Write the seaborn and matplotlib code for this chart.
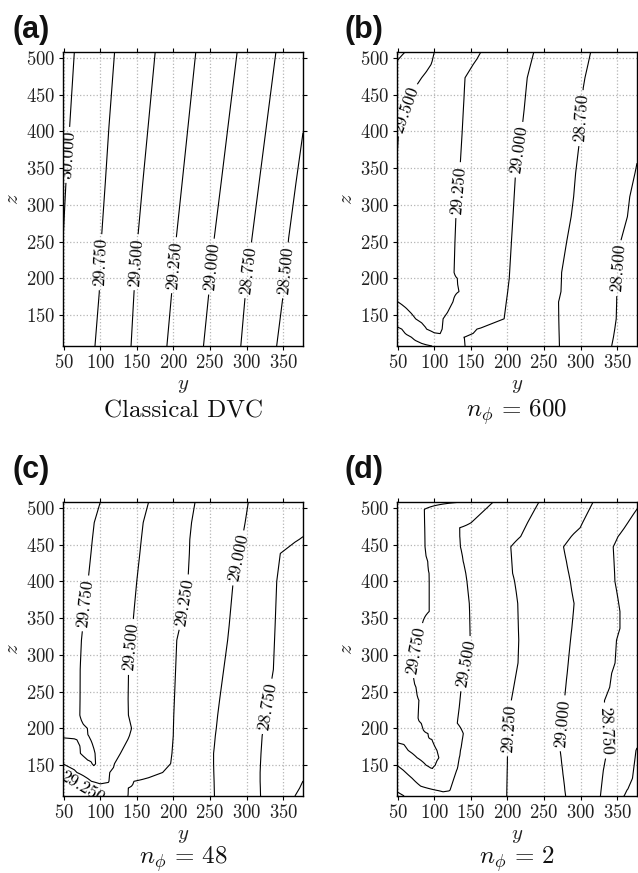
import numpy as np
import matplotlib
matplotlib.use("Agg")
import matplotlib.pyplot as plt
import seaborn as sns

# ---------------- data ----------------
LEVELS = [28.5, 28.75, 29.0, 29.25, 29.5, 29.75, 30.0]
X_TICKS = [50, 100, 150, 200, 250, 300, 350]
Z_TICKS = [150, 200, 250, 300, 350, 400, 450, 500]
PANEL_TAGS = ["(a)", "(b)", "(c)", "(d)"]
PANEL_TITLES = ["Classical DVC", r"$n_\phi\, =\, 600$", r"$n_\phi\, =\, 48$", r"$n_\phi\, =\, 2$"]

# Each panel: rows of the field (z of the row, y knots, field value at knots)
# (a) classical DVC
A_Z = [108, 180, 255, 330, 405, 508]
A_Y = [[49, 92.7, 142, 191, 241, 292, 341, 377],
       [49, 98.5, 146, 197.5, 248.3, 298.3, 350.2, 377],
       [49, 101.6, 151.2, 203.8, 255.7, 307.3, 357.4, 377],
       [49, 53, 106.8, 158, 211.8, 265.1, 317, 367.4, 377],
       [49, 58, 111.7, 165.2, 219.7, 274.3, 326.7, 377],
       [49, 64.5, 119.5, 175, 230.5, 287, 340, 377]]
A_V = [[29.97, 29.75, 29.5, 29.25, 29.0, 28.75, 28.5, 28.32],
       [29.98, 29.75, 29.5, 29.25, 29.0, 28.75, 28.5, 28.37],
       [30.001, 29.75, 29.5, 29.25, 29.0, 28.75, 28.5, 28.405],
       [30.02, 30.0, 29.75, 29.5, 29.25, 29.0, 28.75, 28.5, 28.45],
       [30.04, 30.0, 29.75, 29.5, 29.25, 29.0, 28.75, 28.505],
       [30.07, 30.0, 29.75, 29.5, 29.25, 29.0, 28.75, 28.575]]

# (b) n_phi = 600
B_Z = [108, 120, 131, 145, 168, 182, 200, 208, 250, 284, 311, 343, 398, 430, 459, 473, 491, 508]
B_Y = [[49, 97, 118, 142, 271, 342.4, 377],
       [49, 68.6, 108, 140.5, 270.7, 344.8, 377],
       [49, 55.5, 89.5, 100, 110.7, 158.3, 270.4, 346.6, 377],
       [49, 74.4, 95, 112, 195.4, 270.1, 348.6, 377],
       [49, 88, 125.4, 198.4, 269.8, 349.2, 377],
       [49, 133.7, 200.3, 273.1, 349.4, 377],
       [49, 131.4, 202.4, 273.8, 350.6, 377],
       [49, 127, 202.9, 274, 351.2, 377],
       [49, 128.2, 205.4, 280.9, 354.6, 377],
       [49, 129.5, 207.5, 287, 363.9, 377],
       [49, 131.9, 209.1, 290.4, 367.1, 377],
       [49, 134.7, 211, 293.1, 374.2, 377],
       [49, 51, 138, 219.2, 299.7, 377],
       [49, 62, 139.7, 222.8, 301.7, 377],
       [49, 72.7, 141.2, 225.6, 303.5, 377],
       [49, 82.7, 142, 227, 305.9, 377],
       [49, 95.5, 153.1, 231.6, 310, 377],
       [49, 60, 100, 163.6, 236, 313.7, 377]]
B_V = [[28.88, 29.0, 29.17, 29.0, 28.75, 28.5, 28.39],
       [28.93, 29.0, 29.24, 29.0, 28.75, 28.5, 28.4],
       [28.97, 29.0, 29.25, 29.3, 29.25, 29.0, 28.75, 28.5, 28.4],
       [29.1, 29.25, 29.33, 29.25, 29.0, 28.75, 28.5, 28.41],
       [29.245, 29.4, 29.25, 29.0, 28.75, 28.5, 28.41],
       [29.35, 29.25, 29.0, 28.75, 28.5, 28.41],
       [29.38, 29.25, 29.0, 28.75, 28.5, 28.42],
       [29.39, 29.25, 29.0, 28.75, 28.5, 28.42],
       [29.42, 29.25, 29.0, 28.75, 28.5, 28.43],
       [29.45, 29.25, 29.0, 28.75, 28.5, 28.46],
       [29.47, 29.25, 29.0, 28.75, 28.5, 28.47],
       [29.497, 29.25, 29.0, 28.75, 28.5, 28.49],
       [29.505, 29.5, 29.25, 29.0, 28.75, 28.53],
       [29.55, 29.5, 29.25, 29.0, 28.75, 28.58],
       [29.65, 29.5, 29.25, 29.0, 28.75, 28.6],
       [29.7, 29.5, 29.25, 29.0, 28.75, 28.61],
       [29.73, 29.5, 29.25, 29.0, 28.75, 28.62],
       [29.8, 29.75, 29.5, 29.25, 29.0, 28.75, 28.63]]

# (c) n_phi = 48
C_Z = [108, 119, 128, 140, 152, 166, 190, 200, 218, 240, 280, 320, 340, 400, 438, 457, 480, 508]
C_Y = [[49, 100, 118, 137.7, 256, 319, 366, 377],
       [49, 77, 111, 138.3, 255.7, 318.7, 372.5, 377],
       [49, 64.5, 87.8, 100, 111.8, 146, 255.5, 318.4, 377],
       [49, 68, 93.7, 112.9, 185.2, 255.1, 318.4, 377],
       [49, 88.7, 91, 93.5, 119.4, 196.1, 254.8, 318.9, 377],
       [49, 72.8, 83, 92.8, 127.5, 197.9, 254.8, 319.6, 377],
       [49, 84, 139.8, 199.7, 257.2, 321.2, 377],
       [49, 82.3, 142.7, 199.9, 258.5, 322.9, 377],
       [49, 72, 138.4, 200.4, 260.4, 326, 377],
       [49, 72.3, 138, 201.3, 263.2, 329.9, 377],
       [49, 72.5, 138.6, 202.9, 268.6, 336.5, 377],
       [49, 74.2, 142.4, 204.5, 274, 338.1, 377],
       [49, 76.2, 144.3, 209.1, 276.1, 338.9, 377],
       [49, 83.2, 149.8, 219.7, 281.6, 341.1, 377],
       [49, 87.2, 154, 221.7, 289.7, 346, 377],
       [49, 89.1, 156, 222.3, 293.8, 371.7, 377],
       [49, 91.7, 158.6, 224.7, 297.9, 377],
       [49, 100, 166, 229.5, 302.3, 377]]
C_V = [[29.15, 29.25, 29.36, 29.25, 29.0, 28.75, 28.5, 28.45],
       [29.17, 29.25, 29.48, 29.25, 29.0, 28.75, 28.5, 28.48],
       [29.2, 29.25, 29.5, 29.56, 29.5, 29.25, 29.0, 28.75, 28.499],
       [29.26, 29.5, 29.7, 29.5, 29.25, 29.0, 28.75, 28.53],
       [29.505, 29.75, 29.77, 29.75, 29.5, 29.25, 29.0, 28.75, 28.53],
       [29.6, 29.75, 29.82, 29.75, 29.5, 29.25, 29.0, 28.75, 28.53],
       [29.77, 29.75, 29.5, 29.25, 29.0, 28.75, 28.54],
       [29.8, 29.75, 29.5, 29.25, 29.0, 28.75, 28.54],
       [29.82, 29.75, 29.5, 29.25, 29.0, 28.75, 28.56],
       [29.82, 29.75, 29.5, 29.25, 29.0, 28.75, 28.57],
       [29.82, 29.75, 29.5, 29.25, 29.0, 28.75, 28.6],
       [29.83, 29.75, 29.5, 29.25, 29.0, 28.75, 28.6],
       [29.84, 29.75, 29.5, 29.25, 29.0, 28.75, 28.61],
       [29.87, 29.75, 29.5, 29.25, 29.0, 28.75, 28.62],
       [29.89, 29.75, 29.5, 29.25, 29.0, 28.75, 28.63],
       [29.9, 29.75, 29.5, 29.25, 29.0, 28.75, 28.74],
       [29.91, 29.75, 29.5, 29.25, 29.0, 28.8],
       [29.94, 29.75, 29.5, 29.25, 29.0, 28.82]]

# (d) n_phi = 2
D_Z = [108, 116, 121.4, 132, 143, 150, 160, 170, 185, 193, 207, 214, 238, 256, 275, 289,
       320, 336, 359, 370, 400, 411, 427, 447, 461, 473, 480, 498, 508]
D_Y = [[49, 58.7, 120, 199, 279.5, 327, 359, 377],
       [49, 101.9, 112, 121.5, 199.1, 278.4, 327.9, 363.3, 377],
       [49, 81.4, 100, 123.3, 199.2, 277.9, 328.5, 366.2, 377],
       [49, 69.8, 98, 126.8, 199.4, 276.6, 329.7, 370.8, 377],
       [49, 57.7, 97.3, 130.5, 199.6, 275.3, 331, 372.2, 377],
       [49, 88.7, 95, 101.3, 132.4, 199.8, 274.4, 332.4, 373.1, 377],
       [49, 76.5, 92, 106.2, 134.1, 199.9, 273.3, 334.4, 374.4, 377],
       [49, 64.3, 85, 103.6, 135.7, 200.4, 272, 335.3, 375.6, 377],
       [49, 96.6, 138.3, 201.4, 273.3, 334.3, 377],
       [49, 91.3, 139.6, 201.9, 274, 333.8, 377],
       [49, 82.1, 131.4, 202.8, 275.2, 332.8, 377],
       [49, 77.8, 132.2, 203.2, 275.8, 332.3, 377],
       [49, 79, 135, 205.2, 277.9, 332.6, 377],
       [49, 74.9, 136.7, 208.5, 279.6, 339.7, 377],
       [49, 70.5, 140.3, 211.9, 281.6, 342.4, 377],
       [49, 73.1, 143, 214.4, 283, 347, 377],
       [49, 78.8, 149, 215.4, 286.1, 349, 377],
       [49, 81.8, 148.7, 214.9, 287.9, 353.7, 377],
       [49, 93, 148.2, 214.3, 290.1, 353.7, 377],
       [49, 93, 147.8, 214, 291, 352, 377],
       [49, 93, 144.6, 209.7, 285.9, 346.8, 377],
       [49, 92.8, 143, 207, 283.7, 346.4, 377],
       [49, 91, 139.5, 205.9, 280.6, 345.6, 377],
       [49, 87.3, 135.7, 204.5, 276.6, 344.5, 377],
       [49, 87.1, 134.8, 218, 287.1, 351.1, 377],
       [49, 86.9, 134.7, 224, 299.3, 359.9, 377],
       [49, 86.7, 150.5, 227.5, 302.7, 364.6, 377],
       [49, 86.4, 169.8, 237.4, 311.9, 377],
       [49, 138.6, 180.5, 243, 317, 377]]
D_V = [[29.2, 29.25, 29.48, 29.25, 29.0, 28.75, 28.5, 28.43],
       [29.27, 29.5, 29.52, 29.5, 29.25, 29.0, 28.75, 28.5, 28.45],
       [29.32, 29.5, 29.6, 29.5, 29.25, 29.0, 28.75, 28.5, 28.46],
       [29.38, 29.5, 29.68, 29.5, 29.25, 29.0, 28.75, 28.5, 28.48],
       [29.45, 29.5, 29.74, 29.5, 29.25, 29.0, 28.75, 28.5, 28.485],
       [29.502, 29.75, 29.78, 29.75, 29.5, 29.25, 29.0, 28.75, 28.5, 28.49],
       [29.6, 29.75, 29.82, 29.75, 29.5, 29.25, 29.0, 28.75, 28.5, 28.495],
       [29.68, 29.75, 29.84, 29.75, 29.5, 29.25, 29.0, 28.75, 28.5, 28.497],
       [29.78, 29.75, 29.5, 29.25, 29.0, 28.75, 28.51],
       [29.8, 29.75, 29.5, 29.25, 29.0, 28.75, 28.53],
       [29.8, 29.75, 29.5, 29.25, 29.0, 28.75, 28.55],
       [29.8, 29.75, 29.5, 29.25, 29.0, 28.75, 28.56],
       [29.8, 29.75, 29.5, 29.25, 29.0, 28.75, 28.57],
       [29.79, 29.75, 29.5, 29.25, 29.0, 28.75, 28.6],
       [29.78, 29.75, 29.5, 29.25, 29.0, 28.75, 28.62],
       [29.79, 29.75, 29.5, 29.25, 29.0, 28.75, 28.63],
       [29.8, 29.75, 29.5, 29.25, 29.0, 28.75, 28.64],
       [29.81, 29.75, 29.5, 29.25, 29.0, 28.75, 28.66],
       [29.82, 29.75, 29.5, 29.25, 29.0, 28.75, 28.66],
       [29.83, 29.75, 29.5, 29.25, 29.0, 28.75, 28.65],
       [29.83, 29.75, 29.5, 29.25, 29.0, 28.75, 28.64],
       [29.83, 29.75, 29.5, 29.25, 29.0, 28.75, 28.64],
       [29.83, 29.75, 29.5, 29.25, 29.0, 28.75, 28.63],
       [29.83, 29.75, 29.5, 29.25, 29.0, 28.75, 28.63],
       [29.83, 29.75, 29.5, 29.25, 29.0, 28.75, 28.65],
       [29.83, 29.75, 29.5, 29.25, 29.0, 28.75, 28.68],
       [29.83, 29.75, 29.5, 29.25, 29.0, 28.75, 28.7],
       [29.83, 29.75, 29.5, 29.25, 29.0, 28.749],
       [29.85, 29.75, 29.5, 29.25, 29.0, 28.78]]

PANELS = [(A_Z, A_Y, A_V), (B_Z, B_Y, B_V), (C_Z, C_Y, C_V), (D_Z, D_Y, D_V)]

# ---------------- layout / style ----------------
LABEL_SPOTS = [
    [(56, 368), (100, 222), (149, 222), (200, 218), (252, 216), (302, 211), (352, 211)],
    [(60, 430), (133, 320), (216, 375), (301, 418), (351, 214)],
    [(80, 370), (139, 311), (75, 121), (213, 372), (288, 432), (328, 230)],
    [(76, 306), (143, 288), (202, 200), (274, 207), (333, 197)],
]

sns.set_theme(style="ticks")
plt.rcParams["font.family"] = ["cmr10", "DejaVu Serif"]
plt.rcParams["mathtext.fontset"] = "cm"
plt.rcParams["axes.formatter.use_mathtext"] = True
plt.rcParams["axes.unicode_minus"] = False

W, H = 638.0, 873.0
fig = plt.figure(figsize=(W / 100, H / 100), dpi=100)
boxes = [(63, 52), (397, 52), (63, 502), (397, 502)]
tag_xy = [(12, 38), (345, 38), (12, 478), (345, 478)]
title_y = [-0.242, -0.242, -0.232, -0.232]
AX_W, AX_H = 240, 294


def build_field(zs, ys, vs):
    grid_y = np.unique(np.concatenate([np.asarray(r, float) for r in ys]))
    field = np.array([np.interp(grid_y, np.asarray(y, float), np.asarray(v, float))
                      for y, v in zip(ys, vs)])
    return grid_y, np.asarray(zs, float), field


for i, (zs, ys, vs) in enumerate(PANELS):
    l, t = boxes[i]
    ax = fig.add_axes([l / W, 1 - (t + AX_H) / H, AX_W / W, AX_H / H])
    gy, gz, F = build_field(zs, ys, vs)
    cs = ax.contour(gy, gz, F, levels=LEVELS, colors="black", linewidths=0.8)
    ax.clabel(cs, fmt="%.3f", manual=LABEL_SPOTS[i], inline=True,
              inline_spacing=4, fontsize=12.5, colors="black")
    ax.set_xlim(49, 377)
    ax.set_ylim(108, 508)
    ax.set_xticks(X_TICKS)
    ax.set_yticks(Z_TICKS)
    ax.set_axisbelow(True)
    ax.grid(True, color="#b5b5b5", linestyle=":", linewidth=0.9)
    ax.tick_params(direction="out", top=True, right=True, length=2.6, width=0.8,
                   labelsize=13.5, pad=3, color="black", labelcolor="#222222")
    for sp in ax.spines.values():
        sp.set_visible(True)
        sp.set_color("black")
        sp.set_linewidth(1.0)
    ax.set_xlabel("$y$", fontsize=15, color="#222222")
    ax.xaxis.set_label_coords(0.5, -0.105)
    ax.xaxis.label.set_va("top")
    ax.set_ylabel("$z$", fontsize=15, color="#222222")
    ax.yaxis.set_label_coords(-0.17, 0.5)
    ax.text(0.5, title_y[i], PANEL_TITLES[i], transform=ax.transAxes, ha="center",
            va="baseline", fontsize=18, color="#111111")
    tx, ty = tag_xy[i]
    fig.text(tx / W, 1 - ty / H, PANEL_TAGS[i], fontsize=22, fontweight="bold",
             family=["Liberation Sans", "DejaVu Sans"], va="baseline", ha="left",
             color="#111111")

fig.savefig("out.png", dpi=100)
